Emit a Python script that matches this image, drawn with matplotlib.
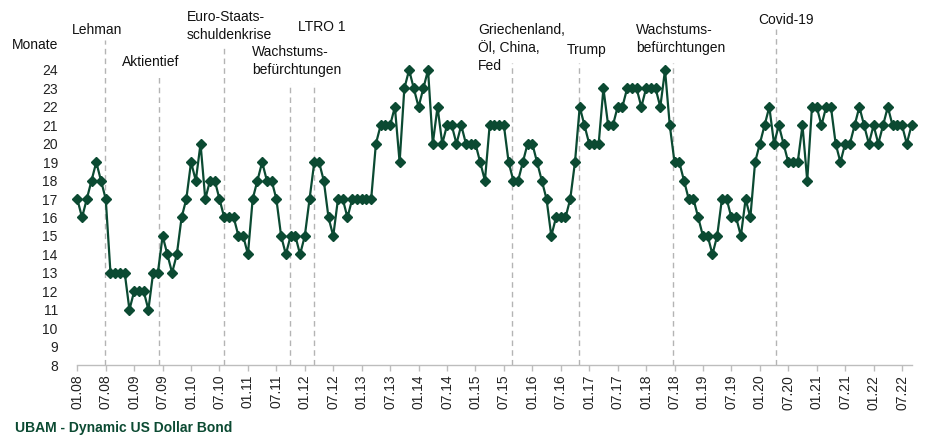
import matplotlib
matplotlib.use("Agg")
import matplotlib.pyplot as plt
import numpy as np

plt.rcParams['font.family'] = ['Liberation Sans', 'DejaVu Sans']

# monthly values (Monate), 01.08 .. 09.22
values = [
    17, 16, 17, 18, 19, 18, 17, 13, 13, 13,
    13, 11, 12, 12, 12, 11, 13, 13, 15, 14,
    13, 14, 16, 17, 19, 18, 20, 17, 18, 18,
    17, 16, 16, 16, 15, 15, 14, 17, 18, 19,
    18, 18, 17, 15, 14, 15, 15, 14, 15, 17,
    19, 19, 18, 16, 15, 17, 17, 16, 17, 17,
    17, 17, 17, 20, 21, 21, 21, 22, 19, 23,
    24, 23, 22, 23, 24, 20, 22, 20, 21, 21,
    20, 21, 20, 20, 20, 19, 18, 21, 21, 21,
    21, 19, 18, 18, 19, 20, 20, 19, 18, 17,
    15, 16, 16, 16, 17, 19, 22, 21, 20, 20,
    20, 23, 21, 21, 22, 22, 23, 23, 23, 22,
    23, 23, 23, 22, 24, 21, 19, 19, 18, 17,
    17, 16, 15, 15, 14, 15, 17, 17, 16, 16,
    15, 17, 16, 19, 20, 21, 22, 20, 21, 20,
    19, 19, 19, 21, 18, 22, 22, 21, 22, 22,
    20, 19, 20, 20, 21, 22, 21, 20, 21, 20,
    21, 22, 21, 21, 21, 20, 21,
]

# tick labels every 6 months
tick_labels = []
for yr in range(8, 23):
    tick_labels += ['01.%02d' % yr, '07.%02d' % yr]

# events: month index since 01.08, label lines, top of dashed line
events = [
    (5.9, 'Lehman', 25.6),
    (17.2, 'Aktientief', 23.8),
    (31.0, 'Euro-Staats-\nschuldenkrise', 25.35),
    (44.8, 'Wachstums-\nbefürchtungen', 23.3),
    (50.0, 'LTRO 1', 23.3),
    (91.8, 'Griechenland,\nÖl, China,\nFed', 24.4),
    (105.9, 'Trump', 24.4),
    (125.7, 'Wachstums-\nbefürchtungen', 24.4),
    (147.5, 'Covid-19', 26.2),
]
# label anchor (pixels, left / first line centre) for each event
label_pos = [(72, 30), (122, 62), (187, 17), (252, 52), (298, 27),
             (478, 30), (567, 50), (636, 30), (758, 20)]

green = '#0b4a32'
W, H = 925, 436
fig = plt.figure(figsize=(W / 100, H / 100), dpi=100)
ax = fig.add_axes([77.3 / W, 1 - 365 / H, (911.5 - 77.3) / W, (365 - 70) / H])

x = np.arange(len(values))
for (pos, label, top), (lx, ly) in zip(events, label_pos):
    ax.plot([pos, pos], [8, top], color='#b4b4b4', lw=1, ls=(0, (4, 3)),
            clip_on=False, zorder=1)
    fig.text(lx / W, 1 - (ly - 7) / H, label, ha='left', va='top', fontsize=10,
             color='#111111', linespacing=1.38)

ax.plot(x, values, color=green, lw=1.6, marker='D', ms=5.5,
        markerfacecolor=green, markeredgecolor=green, clip_on=False, zorder=3)

ax.set_xlim(0, 176)
ax.set_ylim(8, 24)
ax.set_yticks(range(8, 25))
ax.set_xticks(np.arange(0, 175, 6))
ax.set_xticklabels(tick_labels, rotation=90, fontsize=10, color='#222222')
ax.tick_params(axis='y', length=0, pad=14, labelsize=10, labelcolor='#222222')
ax.tick_params(axis='x', length=4, width=1, color='#bdbdbd', pad=3)

for side in ['top', 'right', 'left']:
    ax.spines[side].set_visible(False)
ax.spines['bottom'].set_color('#bdbdbd')
ax.spines['bottom'].set_linewidth(1)

fig.text(12 / W, 1 - 45 / H, 'Monate', ha='left', va='center', fontsize=10,
         color='#111111')
fig.text(15 / W, 1 - 428 / H, 'UBAM - Dynamic US Dollar Bond', ha='left',
         va='center', fontsize=10, fontweight='bold', color=green)

fig.savefig('out.png', dpi=100)
